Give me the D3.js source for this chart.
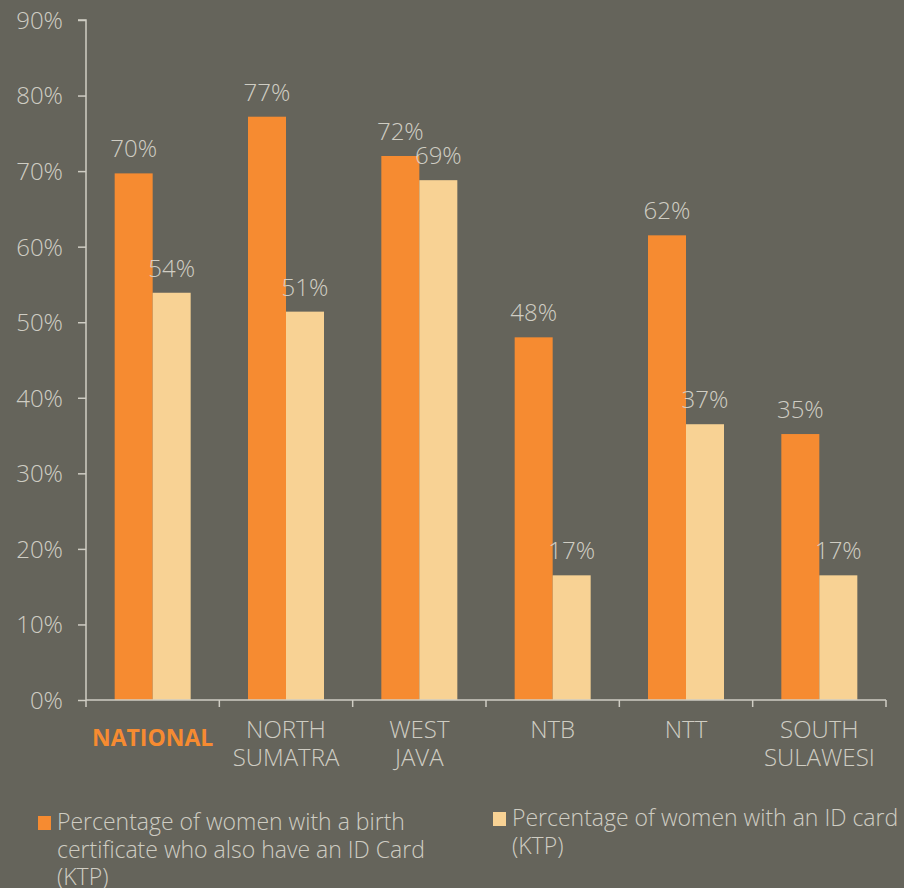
<!DOCTYPE html>
<html>
<head>
<meta charset="utf-8">
<script src="https://cdn.jsdelivr.net/npm/d3@7"></script>
<style>
  body { margin: 0; background: #65645b; }
  text { font-family: "Open Sans", sans-serif; font-weight: 300; }
</style>
</head>
<body>
<div id="chart"></div>
<script>
var regions = ["NATIONAL", "NORTH SUMATRA", "WEST JAVA", "NTB", "NTT", "SOUTH SULAWESI"];
var regionLines = [["NATIONAL"], ["NORTH", "SUMATRA"], ["WEST", "JAVA"], ["NTB"], ["NTT"], ["SOUTH", "SULAWESI"]];
var birthCertPct = [69.7, 77.2, 72.0, 48.0, 61.5, 35.2];
var idCardPct = [53.9, 51.4, 68.8, 16.5, 36.5, 16.5];
var yTicks = [0, 10, 20, 30, 40, 50, 60, 70, 80, 90];
var seriesNames = [
  ["Percentage of women with a birth", "certificate who also have an ID Card", "(KTP)"],
  ["Percentage of women with an ID card", "(KTP)"]
];

var bg = "#65645b", orange = "#f68b31", light = "#f8d294", textCol = "#cfcdc3";

var svg = d3.select("#chart").append("svg")
    .attr("width", 904)
    .attr("height", 888);

svg.append("rect").attr("width", 904).attr("height", 888).attr("fill", bg);

var margin = {left: 86, top: 20, right: 18, bottom: 188};
var width = 886 - margin.left, height = 700 - margin.top;
var g = svg.append("g").attr("transform", "translate(" + margin.left + "," + margin.top + ")");

var x = d3.scaleBand().domain(regions).range([0, width]).paddingInner(0.43).paddingOuter(0.215);
var xs = d3.scaleBand().domain([0, 1]).range([0, x.bandwidth()]);
var y = d3.scaleLinear().domain([0, 90]).range([height, 0]);

// y axis
var yAxis = g.append("g")
    .call(d3.axisLeft(y).tickValues(yTicks).tickFormat(function(d) { return d + "%"; }).tickSize(8).tickPadding(15));
yAxis.selectAll("line, path").attr("stroke", textCol).attr("stroke-width", 1.5);
yAxis.select("path").attr("d", "M0," + height + "V0H-8");
yAxis.selectAll("text").attr("fill", textCol).style("font-size", "24px").attr("dy", "0.35em");

// bars
var grp = g.selectAll(".region").data(regions).enter().append("g")
    .attr("transform", function(d) { return "translate(" + x(d) + ",0)"; });

[birthCertPct, idCardPct].forEach(function(vals, s) {
  grp.append("rect")
      .attr("x", xs(s))
      .attr("width", xs.bandwidth())
      .attr("y", function(d, i) { return y(vals[i]); })
      .attr("height", function(d, i) { return height - y(vals[i]); })
      .attr("fill", s === 0 ? orange : light);
  grp.append("text")
      .attr("x", xs(s) + xs.bandwidth() / 2)
      .attr("y", function(d, i) { return y(vals[i]) - 16; })
      .attr("text-anchor", "middle")
      .attr("fill", textCol)
      .style("font-size", "24px")
      .text(function(d, i) { return Math.round(vals[i]) + "%"; });
});

// x axis
var xAxisG = g.append("g").attr("transform", "translate(0," + height + ")");
xAxisG.append("line").attr("x1", 0).attr("x2", width).attr("stroke", textCol).attr("stroke-width", 1.5);
var step = x.step();
d3.range(regions.length + 1).forEach(function(i) {
  xAxisG.append("line").attr("x1", i * step).attr("x2", i * step).attr("y1", 0).attr("y2", 7)
      .attr("stroke", textCol).attr("stroke-width", 1.5);
});

regions.forEach(function(r, i) {
  var cx = x(r) + x.bandwidth() / 2;
  var t = xAxisG.append("text").attr("text-anchor", "middle").attr("fill", i === 0 ? orange : textCol);
  if (i === 0) {
    t.attr("x", cx).attr("y", 46).style("font-size", "23px").style("font-weight", 700).text(r);
  } else {
    regionLines[i].forEach(function(line, k) {
      t.append("tspan").attr("x", cx).attr("y", 38 + k * 28).style("font-size", "24px").text(line);
    });
  }
});

// legend
var legendPos = [{x: 38, y: 816}, {x: 493, y: 812}];
seriesNames.forEach(function(lines, s) {
  var lg = svg.append("g").attr("transform", "translate(" + legendPos[s].x + "," + legendPos[s].y + ")");
  lg.append("rect").attr("width", 13).attr("height", 14).attr("fill", s === 0 ? orange : light);
  var t = lg.append("text").attr("fill", textCol).style("font-size", "23px");
  lines.forEach(function(line, k) {
    t.append("tspan").attr("x", 19).attr("y", 14 + k * 27.5).text(line);
  });
});
</script>
</body>
</html>
